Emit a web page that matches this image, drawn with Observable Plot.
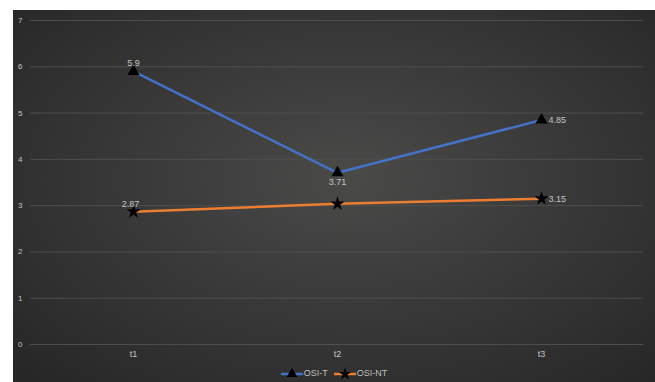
<!DOCTYPE html>
<html>
<head>
<meta charset="utf-8">
<script src="https://cdn.jsdelivr.net/npm/d3@7"></script>
<script src="https://cdn.jsdelivr.net/npm/@observablehq/plot@0.6"></script>
<style>
  html, body { margin: 0; padding: 0; background: #ffffff; }
  #frame {
    position: absolute; left: 13px; top: 10px; width: 642px; height: 372px;
    background: radial-gradient(ellipse 70% 75% at 52% 45%, #4a4a49 0%, #3a3a3a 45%, #272727 100%);
    font-family: "Liberation Sans", "DejaVu Sans", sans-serif;
    overflow: hidden;
  }
  #legend {
    position: absolute; left: 0; top: 355px; width: 642px; height: 16px;
    display: flex; justify-content: center; align-items: center; gap: 6px;
    color: #bfbfbf; font-size: 9px;
  }
  .item { display: flex; align-items: center; gap: 1px; }
</style>
</head>
<body>
<div id="frame"><div id="chart"></div><div id="legend"></div></div>
<script>
const categories = ["t1", "t2", "t3"];
const osiT = [5.9, 3.71, 4.85];
const osiNT = [2.87, 3.04, 3.15];
const osiTLabels = ["5.9", "3.71", "4.85"];
const osiNTLabels = ["2.87", "", "3.15"];
const yTicks = [0, 1, 2, 3, 4, 5, 6, 7];
const seriesNames = ["OSI-T", "OSI-NT"];
const colors = ["#4472c4", "#ed7d31"];

const dataT = categories.map((c, i) => ({cat: c, v: osiT[i], label: osiTLabels[i], i}));
const dataNT = categories.map((c, i) => ({cat: c, v: osiNT[i], label: osiNTLabels[i], i}));

const txt = "#c4c4c4";
const font = {fontSize: 9, fill: txt};

const chart = Plot.plot({
  width: 642,
  height: 352,
  marginLeft: 17,
  marginRight: 12,
  marginTop: 10,
  marginBottom: 18,
  style: {background: "transparent", fontFamily: "Liberation Sans, DejaVu Sans, sans-serif", fontSize: "9px", color: txt},
  x: {type: "point", domain: categories, padding: 0.5, label: null},
  y: {domain: [0, 7], label: null},
  marks: [
    Plot.ruleY(yTicks, {stroke: "#4e4e4e", strokeWidth: 1}),
    Plot.axisY({ticks: yTicks, tickFormat: d3.format("d"), tickSize: 0, tickPadding: 8, fill: txt, fontSize: 8, label: null}),
    Plot.axisX({tickSize: 0, tickPadding: 6, fill: txt, fontSize: 9, label: null}),
    Plot.line(dataT, {x: "cat", y: "v", stroke: colors[0], strokeWidth: 2.5}),
    Plot.line(dataNT, {x: "cat", y: "v", stroke: colors[1], strokeWidth: 2.5}),
    Plot.dot(dataT, {x: "cat", y: "v", symbol: "triangle", fill: "#000", r: 4.5}),
    Plot.dot(dataNT, {x: "cat", y: "v", symbol: "star", fill: "#000", r: 4.5}),
    // OSI-T labels: above, below, right
    Plot.text(dataT.filter(d => d.i === 0), {x: "cat", y: "v", text: "label", dy: -8, ...font}),
    Plot.text(dataT.filter(d => d.i === 1), {x: "cat", y: "v", text: "label", dy: 9, ...font}),
    Plot.text(dataT.filter(d => d.i === 2), {x: "cat", y: "v", text: "label", dx: 7, textAnchor: "start", ...font}),
    // OSI-NT labels
    Plot.text(dataNT.filter(d => d.i === 0), {x: "cat", y: "v", text: "label", dy: -8, dx: -3, ...font}),
    Plot.text(dataNT.filter(d => d.i === 2), {x: "cat", y: "v", text: "label", dx: 7, textAnchor: "start", ...font})
  ]
});
document.getElementById("chart").appendChild(chart);

// legend
const legend = document.getElementById("legend");
const syms = [d3.symbolTriangle, d3.symbolStar];
seriesNames.forEach((name, k) => {
  const item = document.createElement("div");
  item.className = "item";
  const svg = d3.create("svg").attr("width", 22).attr("height", 12);
  svg.append("line").attr("x1", 0).attr("x2", 22).attr("y1", 7).attr("y2", 7)
    .attr("stroke", colors[k]).attr("stroke-width", 2.5);
  svg.append("path").attr("d", d3.symbol(syms[k], 50)()).attr("transform", "translate(11,7)").attr("fill", "#000");
  item.appendChild(svg.node());
  const span = document.createElement("span");
  span.textContent = name;
  item.appendChild(span);
  legend.appendChild(item);
});
</script>
</body>
</html>
